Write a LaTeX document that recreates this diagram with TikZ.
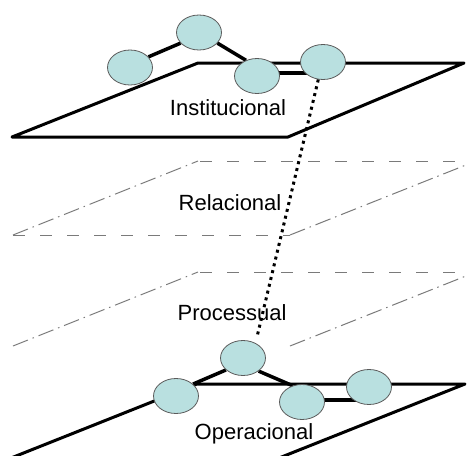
\documentclass[tikz,border=0pt]{standalone}
\usepackage{fontspec}
\setmainfont{Liberation Sans}
\usetikzlibrary{shapes.geometric,backgrounds}
\definecolor{nodefill}{HTML}{B9E0E0}
\definecolor{nodeline}{HTML}{5A5A5A}
\definecolor{gridgrey}{HTML}{7A7A7A}
\begin{document}
\begin{tikzpicture}[x=1pt,y=-1pt,
  actor/.style={ellipse,draw=nodeline,line width=0.8pt,fill=nodefill,
    minimum width=45pt,minimum height=35pt,inner sep=0pt},
  plane/.style={line width=3pt,line join=round},
  link/.style={line width=3.5pt},
  hdash/.style={gridgrey,line width=1pt,dash pattern=on 12pt off 15pt},
  sdash/.style={gridgrey,line width=1pt,dash pattern=on 16pt off 5pt on 1.5pt off 5pt},
  layername/.style={font=\fontsize{22}{26}\selectfont,anchor=base},
  tie/.style={line width=3pt,dash pattern=on 3pt off 4pt}]
\useasboundingbox (0,0) rectangle (467,456);

% institutional plane (solid)
\draw[plane] (198,63) -- (464,63) -- (288,137) -- (12,137) -- cycle;
% relational plane (dashed)
\draw[hdash] (200,161) -- (470,161);
\draw[sdash] (13,235) -- (198,161);
\draw[hdash] (13,235) -- (290,235);
\draw[sdash] (290,235) -- (476,161);
% process plane (dashed, open bottom)
\draw[hdash] (200,272) -- (470,272);
\draw[sdash] (13,346) -- (198,272);
\draw[sdash] (290,346) -- (476,272);
% operational plane (solid)
\draw[plane] (197,384) -- (465,384) -- (274,460) -- (6,460) -- cycle;

% layer names
\node[layername] (tInst) at (228,115) {Institucional};
\node[layername] (tRel)  at (230,210) {Relacional};
\node[layername] (tProc) at (232,320) {Processual};
\node[layername] (tOper) at (254,439) {Operacional};

% actors on the institutional level
\node[actor] (A) at (130,67.5) {};
\node[actor] (B) at (199,32.5) {};
\node[actor] (C) at (257,76) {};
\node[actor] (D) at (323,62) {};
% actors on the operational level
\node[actor] (E) at (243,358) {};
\node[actor] (F) at (176,396) {};
\node[actor] (G) at (302,402) {};
\node[actor] (H) at (369,387) {};

\begin{scope}[on background layer]
  \draw[link] (A.30) -- (B.210);
  \draw[link] (B.-30) -- (C.125);
  \draw[link] ([yshift=3pt]C.center) -- ([yshift=3pt]C.center -| D.center);
  \draw[link] (F.35) -- (E.215);
  \draw[link] (E.-40) -- (G.120);
  \draw[link] ([yshift=2pt]G.center) -- ([yshift=2pt]G.center -| H.center);
\end{scope}

% tie between levels
\draw[tie, shorten >=8pt] (D.255) -- (E.50);
\end{tikzpicture}
\end{document}
